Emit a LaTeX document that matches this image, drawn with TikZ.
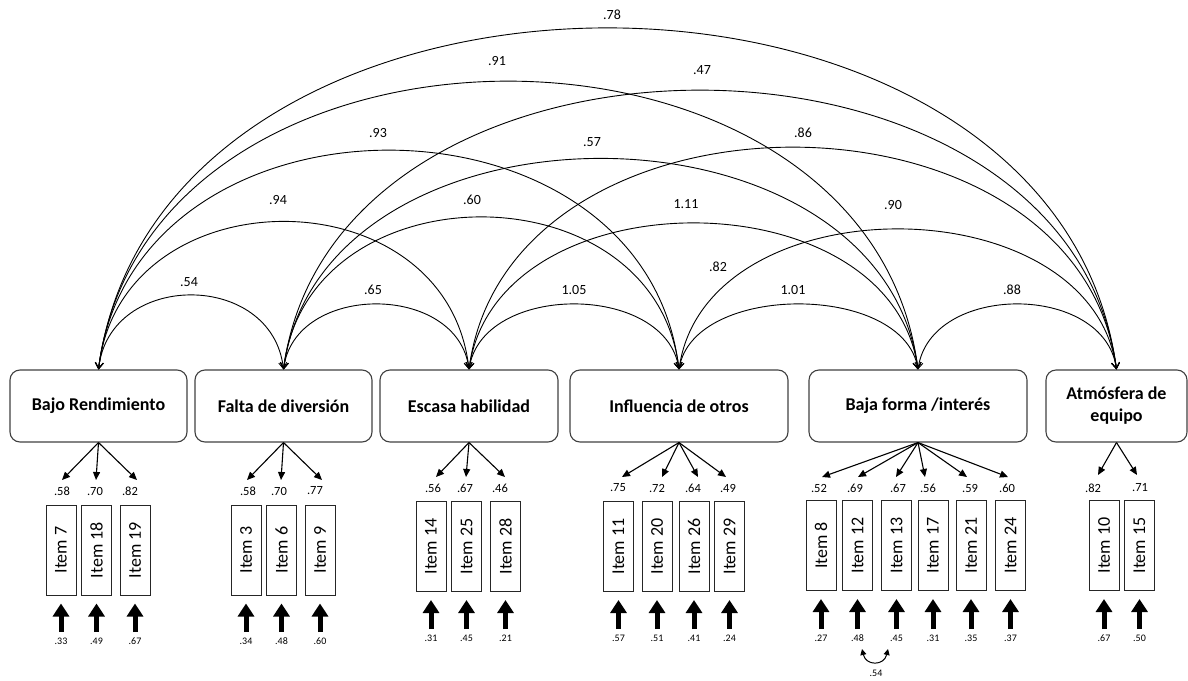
\documentclass[tikz,border=0pt]{standalone}
\usepackage{fontspec}
\setmainfont{Carlito}
\usepackage{graphicx}
\usetikzlibrary{arrows.meta}
\begin{document}
\begin{tikzpicture}[x=1pt,y=-1pt,
  factor/.style={draw=black!75, line width=1.1pt, rounded corners=10pt, minimum height=72pt, inner sep=2pt, align=center, font=\fontsize{18}{22}\selectfont\bfseries},
  itembox/.style={draw=black!85, line width=1pt, minimum width=30pt, minimum height=90pt, inner sep=0pt, font=\fontsize{18}{20}\selectfont},
  corr/.style={draw=black, line width=0.9pt, {Straight Barb[length=6pt,width=8pt]}-{Straight Barb[length=6pt,width=8pt]}},
  load/.style={draw=black, line width=1.1pt, -{Triangle[length=8pt,width=7pt]}},
  err/.style={draw=black, line width=5pt, shorten >=8pt, -{Triangle[length=13pt,width=16pt]}},
  cov/.style={draw=black, line width=1pt, {Triangle[length=6pt,width=6pt]}-{Triangle[length=6pt,width=6pt]}},
  arclab/.style={font=\fontsize{14}{14}\selectfont, inner sep=0pt},
  loadlab/.style={font=\fontsize{12.5}{13}\selectfont, inner sep=0pt},
  errlab/.style={font=\fontsize{10}{10}\selectfont, inner sep=0pt},
]
\useasboundingbox (0,0) rectangle (1188,680);

% factors
\node[factor, minimum width=177pt] (F1) at (98.5,406) {Bajo Rendimiento};
\node[factor, minimum width=177pt] (F2) at (283.5,406) {Falta de diversión};
\node[factor, minimum width=178pt] (F3) at (469,406) {Escasa habilidad};
\node[factor, minimum width=218pt] (F4) at (679,406) {Influencia de otros};
\node[factor, minimum width=218pt] (F5) at (918,406) {Baja forma /interés};
\node[factor, minimum width=141pt] (F6) at (1116.5,406) {Atmósfera de\\equipo};

% correlations
\draw[corr] (F1.north) .. controls +(11,-99) and +(-11,-99) .. (F2.north);
\draw[corr] (F2.north) .. controls +(11,-87) and +(-11,-87) .. (F3.north);
\draw[corr] (F3.north) .. controls +(13,-87) and +(-13,-87) .. (F4.north);
\draw[corr] (F4.north) .. controls +(14,-87) and +(-14,-87) .. (F5.north);
\draw[corr] (F5.north) .. controls +(12,-87) and +(-12,-87) .. (F6.north);
\draw[corr] (F1.north) .. controls +(22,-197) and +(-22,-197) .. (F3.north);
\draw[corr] (F2.north) .. controls +(24,-203) and +(-24,-203) .. (F4.north);
\draw[corr] (F3.north) .. controls +(27,-195) and +(-27,-195) .. (F5.north);
\draw[corr] (F4.north) .. controls +(26,-187) and +(-26,-187) .. (F6.north);
\draw[corr] (F1.north) .. controls +(35,-292) and +(-35,-292) .. (F4.north);
\draw[corr] (F2.north) .. controls +(38,-281) and +(-38,-281) .. (F5.north);
\draw[corr] (F3.north) .. controls +(39,-296) and +(-39,-296) .. (F6.north);
\draw[corr] (F1.north) .. controls +(49,-384) and +(-49,-384) .. (F5.north);
\draw[corr] (F2.north) .. controls +(50,-372) and +(-50,-372) .. (F6.north);
\draw[corr] (F1.north) .. controls +(61,-455) and +(-61,-455) .. (F6.north);

\node[arclab] (r12) at (189,282) {.54};
\node[arclab] (r23) at (373,290) {.65};
\node[arclab] (r34) at (574,290) {1.05};
\node[arclab] (r45) at (793,290) {1.01};
\node[arclab] (r56) at (1012,290) {.88};
\node[arclab] (r13) at (278,200) {.94};
\node[arclab] (r24) at (472,200) {.60};
\node[arclab] (r35) at (686,204) {1.11};
\node[arclab] (r46) at (893,205) {.90};
\node[arclab] (rx) at (718,267) {.82};
\node[arclab] (r14) at (378,133) {.93};
\node[arclab] (r25) at (592,142) {.57};
\node[arclab] (r36) at (803,133) {.86};
\node[arclab] (r15) at (497,61) {.91};
\node[arclab] (r26) at (702,70) {.47};
\node[arclab] (r16) at (612,15) {.78};

% items
\foreach \n/\bx/\tx/\lx/\lv/\ev in {7/61/62/62/.58/.33, 18/96.5/96/95/.70/.49, 19/135/137/130/.82/.67}{
  \node[itembox] (I\n) at (\bx,550) {\rotatebox{90}{Item \n}};
  \node[loadlab] (L\n) at (\lx,491) {\lv};
  \coordinate (T\n) at (\tx,480);
  \draw[load] (F1.south) -- (T\n);
  \node[errlab] (E\n) at (\bx,641) {\ev};
  \coordinate (B\n) at (\bx,632);
  \draw[err] (B\n) -- (I\n.south);
}
\foreach \n/\bx/\tx/\lx/\lv/\ev in {3/246/247/248/.58/.34, 6/281.5/281/279/.70/.48, 9/320/322/315/.77/.60}{
  \node[itembox] (I\n) at (\bx,550) {\rotatebox{90}{Item \n}};
  \node[loadlab] (L\n) at (\lx,491) {\lv};
  \coordinate (T\n) at (\tx,480);
  \draw[load] (F2.south) -- (T\n);
  \node[errlab] (E\n) at (\bx,641) {\ev};
  \coordinate (B\n) at (\bx,632);
  \draw[err] (B\n) -- (I\n.south);
}
\foreach \n/\bx/\tx/\lx/\lv/\ev in {14/431/436/433/.56/.31, 25/466.5/466/465/.67/.45, 28/505.5/505/500/.46/.21}{
  \node[itembox] (I\n) at (\bx,546.5) {\rotatebox{90}{Item \n}};
  \node[loadlab] (L\n) at (\lx,488) {\lv};
  \coordinate (T\n) at (\tx,477);
  \draw[load] (F3.south) -- (T\n);
  \node[errlab] (E\n) at (\bx,638) {\ev};
  \coordinate (B\n) at (\bx,629);
  \draw[err] (B\n) -- (I\n.south);
}
\foreach \n/\bx/\tx/\lx/\lv/\ev in {11/618.5/622/618/.75/.57, 20/657/662/657/.72/.51, 26/694/698/693/.64/.41, 29/729.5/726/728/.49/.24}{
  \node[itembox] (I\n) at (\bx,546.5) {\rotatebox{90}{Item \n}};
  \node[loadlab] (L\n) at (\lx,488) {\lv};
  \coordinate (T\n) at (\tx,477);
  \draw[load] (F4.south) -- (T\n);
  \node[errlab] (E\n) at (\bx,638) {\ev};
  \coordinate (B\n) at (\bx,629);
  \draw[err] (B\n) -- (I\n.south);
}
\foreach \n/\bx/\tx/\lx/\lv/\ev in {8/821/822/819/.52/.27, 12/857.5/858/855/.69/.48, 13/896.5/896/898/.67/.45, 17/933/925/928/.56/.31, 21/971/967/970/.59/.35, 24/1010.5/1008/1007/.60/.37}{
  \node[itembox] (I\n) at (\bx,545.5) {\rotatebox{90}{Item \n}};
  \node[loadlab] (L\n) at (\lx,488) {\lv};
  \coordinate (T\n) at (\tx,477);
  \draw[load] (F5.south) -- (T\n);
  \node[errlab] (E\n) at (\bx,638) {\ev};
  \coordinate (B\n) at (\bx,629);
  \draw[err] (B\n) -- (I\n.south);
}
\foreach \n/\bx/\tx/\lx/\lv/\ev in {10/1104/1098/1093/.82/.67, 15/1139.5/1137/1140/.71/.50}{
  \node[itembox] (I\n) at (\bx,545.5) {\rotatebox{90}{Item \n}};
  \node[loadlab] (L\n) at (\lx,488) {\lv};
  \coordinate (T\n) at (\tx,475);
  \draw[load] (F6.south) -- (T\n);
  \node[errlab] (E\n) at (\bx,638) {\ev};
  \coordinate (B\n) at (\bx,629);
  \draw[err] (B\n) -- (I\n.south);
}

% error covariance
\coordinate (C12) at (862,649);
\coordinate (C13) at (888,649);
\draw[cov] (C12) .. controls +(4,17) and +(-4,17) .. (C13);
\node[errlab] (cv) at (876,673) {.54};
\end{tikzpicture}
\end{document}
